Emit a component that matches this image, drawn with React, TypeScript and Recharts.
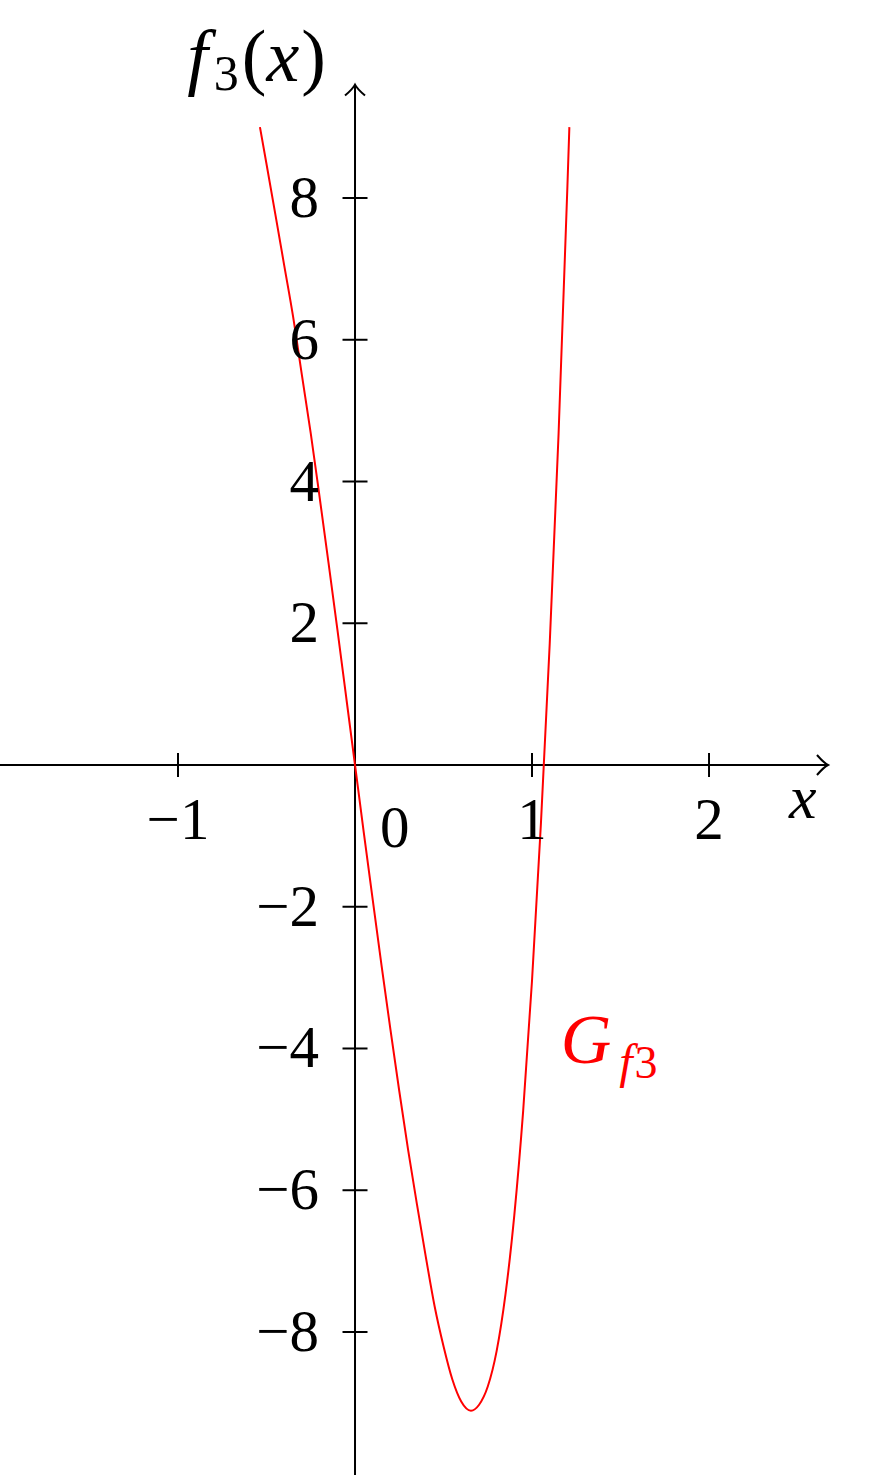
import React from 'react'
import { LineChart, Line, XAxis, YAxis, ReferenceLine, ReferenceDot } from 'recharts'

// curve
const xs = [-0.537, -0.5, -0.45, -0.4, -0.35, -0.3, -0.25, -0.2, -0.15, -0.1, -0.05, 0, 0.05, 0.1, 0.15, 0.2, 0.25, 0.3, 0.35, 0.4, 0.45, 0.5, 0.55, 0.6, 0.655, 0.7, 0.75, 0.8, 0.85, 0.9, 0.95, 1.0, 1.05, 1.1, 1.15, 1.2, 1.211]
const ys = [9.0, 8.48, 7.77, 7.05, 6.33, 5.5, 4.68, 3.78, 2.86, 1.92, 0.96, 0, -0.96, -1.9, -2.83, -3.73, -4.6, -5.43, -6.2, -6.94, -7.64, -8.2, -8.67, -8.98, -9.11, -9.03, -8.77, -8.27, -7.47, -6.35, -4.88, -3.04, -0.84, 1.71, 4.67, 8.17, 9.0]

const xTicks = [-1, 1, 2]
const xTickLabels = ['−1', '1', '2']
const yTicks = [-8, -6, -4, -2, 2, 4, 6, 8]
const yTickLabels = ['−8', '−6', '−4', '−2', '2', '4', '6', '8']

const X_DOMAIN: [number, number] = [-2.0056, 2.932]
const Y_DOMAIN: [number, number] = [-10.018, 10.794]
const X_END = 2.672
const Y_END = 9.6

const FONT = '"Liberation Serif", serif'
const RED = '#ff0000'

const data = xs.map((x, i) => ({ x, y: ys[i] }))

const XTick = (label: string) => (props: any) => {
  const { cx, cy } = props
  return (
    <g>
      <line x1={cx} x2={cx} y1={cy - 12} y2={cy + 12} stroke="#000" strokeWidth={2} />
      <text x={cx} y={cy + 74} textAnchor="middle" fontFamily={FONT} fontSize={59} fill="#000">{label}</text>
    </g>
  )
}

const YTick = (label: string) => (props: any) => {
  const { cx, cy } = props
  return (
    <g>
      <line x1={cx - 12.5} x2={cx + 12.5} y1={cy} y2={cy} stroke="#000" strokeWidth={2} />
      <text x={cx - 36} y={cy + 19} textAnchor="end" fontFamily={FONT} fontSize={59} fill="#000">{label}</text>
    </g>
  )
}

const XArrow = (props: any) => {
  const { cx, cy } = props
  return (
    <g>
      <path d={`M ${cx - 11} ${cy - 10} Q ${cx - 4} ${cy - 2} ${cx} ${cy} Q ${cx - 4} ${cy + 2} ${cx - 11} ${cy + 10}`} fill="none" stroke="#000" strokeWidth={2} />
      <text x={cx - 39} y={cy + 53} fontFamily={FONT} fontStyle="italic" fontSize={62} fill="#000">x</text>
    </g>
  )
}

const YArrow = (props: any) => {
  const { cx, cy } = props
  return (
    <g>
      <path d={`M ${cx - 10} ${cy + 11} Q ${cx - 2} ${cy + 4} ${cx} ${cy} Q ${cx + 2} ${cy + 4} ${cx + 10} ${cy + 11}`} fill="none" stroke="#000" strokeWidth={2} />
      <text x={cx - 29} y={cy - 4} textAnchor="end" fontFamily={FONT} fontSize={74} fill="#000">
        <tspan fontStyle="italic">f</tspan>
        <tspan fontSize={50} dx={6} dy={9}>3</tspan>
        <tspan dy={-9} dx={3}>(</tspan>
        <tspan fontStyle="italic">x</tspan>
        <tspan dx={2}>)</tspan>
      </text>
    </g>
  )
}

const OriginLabel = (props: any) => {
  const { cx, cy } = props
  return (
    <text x={cx + 25} y={cy + 82} fontFamily={FONT} fontSize={59} fill="#000">0</text>
  )
}

const CurveLabel = (props: any) => {
  const { cx, cy } = props
  return (
    <text x={cx} y={cy} fontFamily={FONT} fontSize={70} fill={RED}>
      <tspan fontStyle="italic">G</tspan>
      <tspan fontSize={48} dy={15} dx={8} fontStyle="italic">f</tspan>
      <tspan fontSize={46} dx={2}>3</tspan>
    </text>
  )
}

export default function App() {
  return (
    <div style={{ position: 'absolute', left: 0, top: 0, width: 874, height: 1475, background: '#fff' }}>
      <LineChart width={874} height={1475} data={data} margin={{ top: 0, right: 0, bottom: 0, left: 0 }}>
        <XAxis dataKey="x" type="number" domain={X_DOMAIN} allowDataOverflow hide />
        <YAxis type="number" domain={Y_DOMAIN} allowDataOverflow hide />
        <ReferenceLine segment={[{ x: X_DOMAIN[0], y: 0 }, { x: X_END, y: 0 }]} stroke="#000" strokeWidth={2} ifOverflow="extendDomain" />
        <ReferenceLine segment={[{ x: 0, y: Y_DOMAIN[0] }, { x: 0, y: Y_END }]} stroke="#000" strokeWidth={2} ifOverflow="extendDomain" />
        {xTicks.map((t, i) => (
          <ReferenceDot key={`xt${t}`} x={t} y={0} shape={XTick(xTickLabels[i])} />
        ))}
        {yTicks.map((t, i) => (
          <ReferenceDot key={`yt${t}`} x={0} y={t} shape={YTick(yTickLabels[i])} />
        ))}
        <ReferenceDot x={0} y={0} shape={OriginLabel} />
        <ReferenceDot x={X_END} y={0} shape={XArrow} />
        <ReferenceDot x={0} y={Y_END} shape={YArrow} />
        <ReferenceDot x={1.162} y={-4.2} shape={CurveLabel} />
        <Line type="monotone" dataKey="y" stroke={RED} strokeWidth={2} strokeLinecap="butt" dot={false} activeDot={false} isAnimationActive={false} />
      </LineChart>
    </div>
  )
}
